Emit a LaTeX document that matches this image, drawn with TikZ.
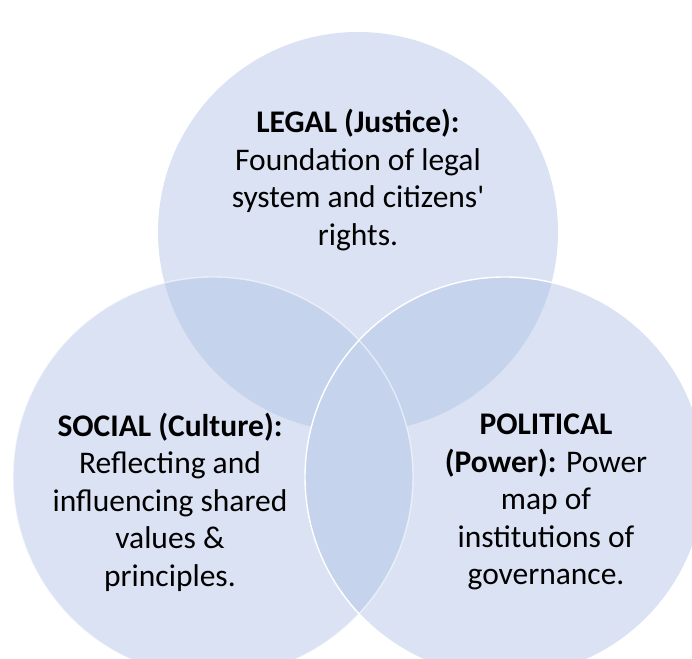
\documentclass[tikz,border=0pt]{standalone}
\usepackage{fontspec}
\setmainfont{Carlito}
\usepackage{xcolor}

\definecolor{vennlight}{RGB}{218,226,243}
\definecolor{venndark}{RGB}{197,211,236}

\begin{document}
\begin{tikzpicture}[
    x=1pt, y=1pt,
    font=\fontsize{31.5}{37.5}\selectfont,
    venn/.style={circle, minimum size=400pt, inner sep=0pt, fill=vennlight},
    rim/.style={circle, minimum size=400pt, inner sep=0pt, draw=white, line width=1.4pt},
    txt/.style={align=center, text=black, inner sep=0pt}
]

    \useasboundingbox (0, 0) rectangle (692, 658);

    % Circle centres
    \coordinate (c1) at (358, 426);
    \coordinate (c2) at (213, 181);
    \coordinate (c3) at (505, 181);

    % The three circles
    \node[venn] (legal) at (c1) {};
    \node[venn] (social) at (c2) {};
    \node[venn] (political) at (c3) {};

    % Overlaps
    \begin{scope}
        \clip (c1) circle (200);
        \fill[venndark] (c2) circle (200);
        \fill[venndark] (c3) circle (200);
    \end{scope}
    \begin{scope}
        \clip (c2) circle (200);
        \fill[venndark] (c3) circle (200);
    \end{scope}

    % White rims
    \node[rim, draw opacity=0.55] (socialrim) at (c2) {};
    \node[rim] (politicalrim) at (c3) {};

    % Labels
    \node[txt] (legaltxt) at (358, 478)
        {\textbf{LEGAL (Justice):}\\Foundation of legal\\system and citizens\textquotesingle\\rights.};
    \node[txt] (socialtxt) at (170, 156)
        {\textbf{SOCIAL (Culture):}\\Reflecting and\\influencing shared\\values \&\\principles.};
    \node[txt] (politicaltxt) at (546, 156)
        {\textbf{POLITICAL}\\\textbf{(Power):} Power\\map of\\institutions of\\governance.};

\end{tikzpicture}
\end{document}
